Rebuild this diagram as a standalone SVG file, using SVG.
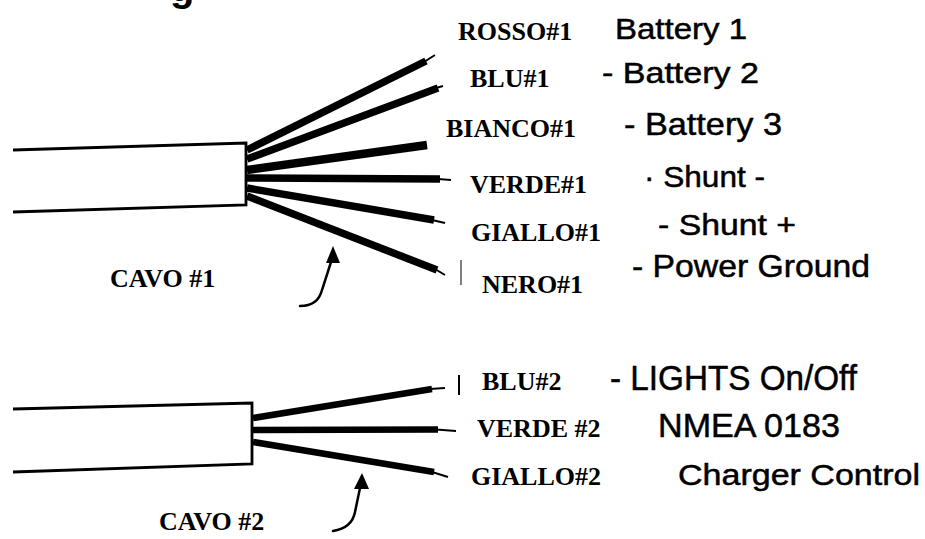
<svg xmlns="http://www.w3.org/2000/svg" width="925" height="539" viewBox="0 0 925 539">
<style>
.sheath{fill:none;stroke:#000;stroke-width:2.8;stroke-linejoin:miter}
.wire{stroke:#000;stroke-width:7.5;stroke-linecap:butt}
.wire2{stroke:#000;stroke-width:6.5;stroke-linecap:butt}
.tip{stroke:#000;stroke-width:2}
.arrow{fill:none;stroke:#000;stroke-width:2.5;stroke-linecap:round}
.lbl{font-family:"Liberation Serif","Times New Roman",serif;font-weight:bold;font-size:26px;fill:#000}
.fn{font-family:"Liberation Sans",Arial,sans-serif;font-size:31px;fill:#000;stroke:#000;stroke-width:0.5}
</style>
<rect width="925" height="539" fill="#fff"/>
<text x="170" y="1" style="font-family:'Liberation Sans',Arial,sans-serif;font-weight:bold;font-size:40px">g</text>

<g id="cable1">
<path class="sheath" d="M13 150 L246 143 L246 205 L13 212"/>
<line class="wire" x1="247" y1="150" x2="426" y2="61"/>
<line class="tip" x1="424" y1="62" x2="435" y2="55"/>
<line class="wire" x1="247" y1="159" x2="438" y2="88"/>
<line class="tip" x1="436" y1="88" x2="443" y2="86"/>
<line class="wire" x1="247" y1="170" x2="427" y2="145" style="stroke-width:8.5"/>
<line class="wire" x1="247" y1="178" x2="440" y2="179"/>
<line class="tip" x1="438" y1="179" x2="451" y2="180"/>
<line class="wire" x1="247" y1="188" x2="434" y2="220"/>
<line class="tip" x1="432" y1="220" x2="445" y2="223"/>
<line class="wire" x1="247" y1="196" x2="437" y2="270"/>
<line class="tip" x1="435" y1="269" x2="445" y2="275"/>
</g>

<g id="cable2">
<path class="sheath" d="M13 409 L252 403 L252 464 L13 472"/>
<line class="wire2" x1="253" y1="418" x2="432" y2="389"/>
<line class="tip" x1="430" y1="389" x2="445" y2="388"/>
<line class="wire2" x1="253" y1="430" x2="438" y2="429.5"/>
<line class="tip" x1="436" y1="429.5" x2="456" y2="431"/>
<line class="wire2" x1="253" y1="442" x2="434" y2="472"/>
<line class="tip" x1="432" y1="472" x2="448" y2="477"/>
</g>

<g id="connectors">
<path class="arrow" d="M300 306 Q318 306 322 290 L331 262"/>
<polygon points="333,246 326,263 340,263" fill="#000"/>
<path class="arrow" d="M333 531 Q352 528 355 512 L360 488"/>
<polygon points="362,473 354,489 369,489" fill="#000"/>
</g>

<g id="marks">
<line x1="461" y1="260" x2="461" y2="285" stroke="#000" stroke-width="1"/>
<line x1="459" y1="375" x2="459" y2="395" stroke="#000" stroke-width="2"/>
</g>

<g id="label-cavo1"><text class="lbl" x="110" y="287">CAVO #1</text></g>
<g id="label-cavo2"><text class="lbl" x="159" y="530">CAVO #2</text></g>

<g id="wire-rosso1">
<text class="lbl" x="458" y="40">ROSSO#1</text>
<text class="fn" x="615" y="39" textLength="132" lengthAdjust="spacingAndGlyphs" style="font-size:30px">Battery 1</text>
</g>
<g id="wire-blu1">
<text class="lbl" x="470" y="87">BLU#1</text>
<text class="fn" x="602" y="83" textLength="157" lengthAdjust="spacingAndGlyphs" style="font-size:30px">- Battery 2</text>
</g>
<g id="wire-bianco1">
<text class="lbl" x="446" y="137">BIANCO#1</text>
<text class="fn" x="624" y="135" textLength="158" lengthAdjust="spacingAndGlyphs" style="font-size:32px">- Battery 3</text>
</g>
<g id="wire-verde1">
<text class="lbl" x="470" y="193">VERDE#1</text>
<text class="fn" x="644" y="187" textLength="121" lengthAdjust="spacingAndGlyphs" style="font-size:30px">· Shunt -</text>
</g>
<g id="wire-giallo1">
<text class="lbl" x="471" y="241">GIALLO#1</text>
<text class="fn" x="658" y="235" textLength="138" lengthAdjust="spacingAndGlyphs" style="font-size:30px">- Shunt +</text>
</g>
<g id="wire-nero1">
<text class="lbl" x="482" y="293">NERO#1</text>
<text class="fn" x="632" y="277" textLength="238" lengthAdjust="spacingAndGlyphs" style="font-size:32px">- Power Ground</text>
</g>
<g id="wire-blu2">
<text class="lbl" x="482" y="390">BLU#2</text>
<text class="fn" x="610" y="390" textLength="247" lengthAdjust="spacingAndGlyphs" style="font-size:35px">- LIGHTS On/Off</text>
</g>
<g id="wire-verde2">
<text class="lbl" x="477" y="437">VERDE #2</text>
<text class="fn" x="658" y="437" textLength="182" lengthAdjust="spacingAndGlyphs" style="font-size:33px">NMEA 0183</text>
</g>
<g id="wire-giallo2">
<text class="lbl" x="471" y="485">GIALLO#2</text>
<text class="fn" x="678" y="485" textLength="242" lengthAdjust="spacingAndGlyphs" style="font-size:30px">Charger Control</text>
</g>
</svg>
